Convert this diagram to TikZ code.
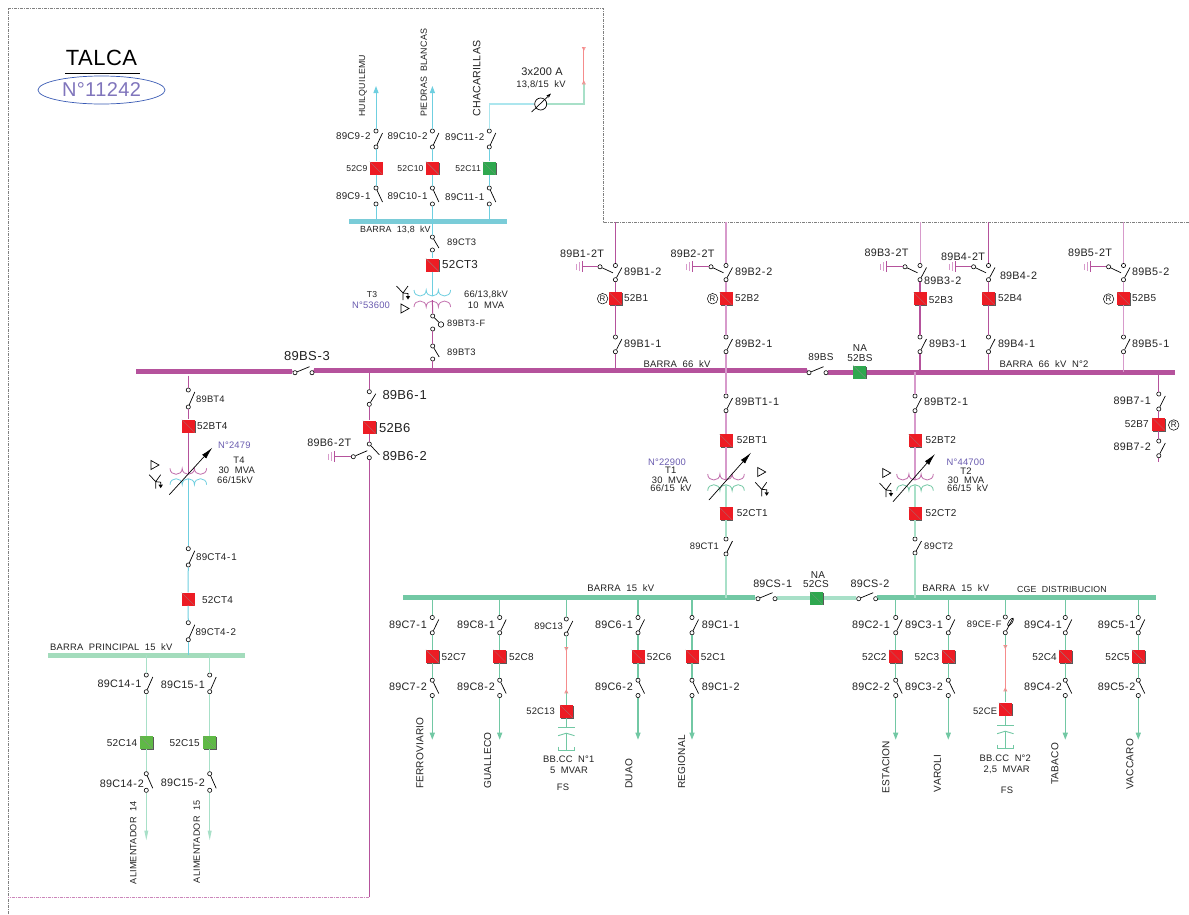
\documentclass[tikz,border=0pt]{standalone}
\usepackage{fontspec}
\setmainfont[LetterSpace=2]{Liberation Sans}
\usetikzlibrary{arrows.meta,calc,shapes.geometric}
\XeTeXinterchartokenstate=1
\newXeTeXintercharclass\hyclass
\XeTeXcharclass`\-=\hyclass
\XeTeXinterchartoks 0 \hyclass={\kern.8pt}
\XeTeXinterchartoks \hyclass 0 ={\kern.8pt}
\definecolor{cmag}{HTML}{B5529C}
\definecolor{cmagl}{HTML}{D79ACB}
\definecolor{cgrn}{HTML}{72C8A4}
\definecolor{cgrnl}{HTML}{A8E0C8}
\definecolor{ccyn}{HTML}{6FCFE0}
\definecolor{ccynl}{HTML}{ACE6EE}
\definecolor{csal}{HTML}{F58C8C}
\definecolor{cbusp}{HTML}{A3DCBC}
\definecolor{cbusc}{HTML}{7ACCD8}
\definecolor{cred}{HTML}{ED1C24}
\definecolor{cgr1}{HTML}{2FA84F}
\definecolor{cgr2}{HTML}{5FB946}
\definecolor{cpur}{HTML}{6A5CB0}
\definecolor{ctxt}{HTML}{222222}
\definecolor{cblue}{HTML}{3A5BB5}
\tikzset{
 swc/.style={circle,draw=black,fill=white,line width=.6pt,minimum size=4.2pt,inner sep=0pt},
 blade/.style={draw=black,line width=.7pt},
 brkbox/.style={rectangle,minimum size=13pt,inner sep=0pt,
   path picture={\draw[line width=.25pt,black!45] (path picture bounding box.north west) -- (path picture bounding box.south east);}},
 busbar/.style={rectangle,inner sep=0pt,minimum height=5pt},
 wm/.style={draw=cmag,line width=1pt},
 wmx/.style={draw=cmag,line width=1.6pt},
 wml/.style={draw=cmagl,line width=1.5pt},
 wg/.style={draw=cgrn,line width=1.2pt},
 wgl/.style={draw=cgrnl,line width=1.4pt},
 wc/.style={draw=ccyn,line width=1pt},
 wcl/.style={draw=ccynl,line width=1.5pt},
 ws/.style={draw=csal,line width=1pt},
 labm/.style={font=\fontsize{10.8}{11}\selectfont,inner sep=0pt,text=ctxt},
 labc/.style={font=\fontsize{9.8}{10}\selectfont},
 labk/.style={font=\fontsize{10}{11}\selectfont},
 labb/.style={font=\fontsize{9.5}{10}\selectfont},
 labs/.style={font=\fontsize{9.4}{10}\selectfont},
 labt/.style={font=\fontsize{8.6}{10}\selectfont},
 labl/.style={font=\fontsize{13}{14}\selectfont},
 rotl/.style={font=\fontsize{10.1}{11}\selectfont,rotate=90,anchor=west},
 pur/.style={text=cpur},
 framel/.style={draw=black!50,line width=.6pt,dash pattern=on 3pt off 1pt on 1pt off 1pt},
 tip/.style={-{Triangle[length=7pt,width=5pt]}},
 tipn/.style={-{Triangle[length=10pt,width=3.6pt]}},
}
\newcounter{lblc}
\newcommand\lab[4][]{\stepcounter{lblc}\node[labm,#1] (txt\arabic{lblc}) at (#2,#3) {#4};}
\newcommand\swU[4]{\node[swc] (#1t) at (#2,#3) {};\node[swc] (#1b) at (#2,#4) {};\draw[blade] (#1b) -- ([shift={(6.5,2)}]#1t.center);}
\newcommand\swD[4]{\node[swc] (#1t) at (#2,#3) {};\node[swc] (#1b) at (#2,#4) {};\draw[blade] (#1t) -- ([shift={(6.5,-2)}]#1b.center);}
\newcommand\swH[4]{\node[swc] (#1l) at (#2,#4) {};\node[swc] (#1r) at (#3,#4) {};\draw[blade] (#1l) -- ([shift={(-2.5,-6)}]#1r.center);}
\newcommand\brk[4]{\fill[black!65] (#2-5.4,#3-5.4) rectangle (#2+7.4,#3+7.4);\node[brkbox,fill=#4] (#1) at (#2,#3) {};}
\newcommand\rmark[3]{\node[circle,draw=black,line width=.5pt,minimum size=10.5pt,inner sep=0pt,font=\fontsize{8}{8}\selectfont,text=ctxt] (#1) at (#2,#3) {R};}
% ground: name, circle x, y, bar x, blade end x
\newcommand\gsw[5]{\node[swc] (#1c) at (#2,#3) {};\coordinate (#1g) at (#4,#3);
 \draw[blade] (#1c) -- (#5,#3+6);
 \draw[draw=cmag,line width=.9pt] (#1c) -- (#1g);
 \draw[draw=cmag,line width=.9pt] (#4,#3-5.5) -- (#4,#3+5.5);
 \draw[draw=cmagl,line width=.9pt] (#4-3,#3-4.5) -- (#4-3,#3+4.5) (#4-6,#3-3) -- (#4-6,#3+3);}
% coil: x0, y0, sign, colour
\newcommand\coil[4]{\draw[draw=#4,line width=.8pt] (#1,#2) .. controls (#1,#2+#3*8) and (#1+12.2,#2+#3*8) .. (#1+12.2,#2) .. controls (#1+12.2,#2+#3*8) and (#1+24.4,#2+#3*8) .. (#1+24.4,#2) .. controls (#1+24.4,#2+#3*8) and (#1+36.6,#2+#3*8) .. (#1+36.6,#2);}
\newcommand\ysym[2]{\draw[line width=.7pt] (#1-6.5,#2-7) -- (#1,#2) -- (#1+5,#2-7) (#1,#2) -- (#1,#2+7) (#1,#2) -- (#1+5,#2+.5) -- (#1+5,#2+3);
 \fill (#1+2.8,#2+3) -- (#1+7.2,#2+3) -- (#1+5,#2+6.5) -- cycle;}
\newcommand\tritr[2]{\draw[line width=.7pt] (#1-4,#2-4.5) -- (#1+4,#2) -- (#1-4,#2+4.5) -- cycle;}
\newcommand\tapA[2]{\draw[draw=csal,line width=.6pt] (#1-1.5,#2) -- (#1+1.5,#2) -- (#1,#2+3) -- cycle;}
\newcommand\tapB[2]{\draw[draw=csal,line width=.6pt] (#1-1.5,#2) -- (#1+1.5,#2) -- (#1,#2-3) -- cycle;}
% capacitor: name, x, plate y, bottom y
\newcommand\capb[4]{\coordinate (#1p) at (#2,#3);\coordinate (#1a) at (#2,#3+5.5);\coordinate (#1e) at (#2,#4);
 \draw[wg,line width=.9pt] (#2-8.2,#3) -- (#2+8.2,#3);
 \draw[wg,line width=.9pt] (#2-8.2,#3+8) -- (#1a) -- (#2+8.2,#3+8);
 \draw[wg,line width=.9pt] (#1a) -- (#1e);
 \draw[wg,line width=.9pt] (#2-8.2,#4-3.5) -- (#2-8.2,#4) -- (#2+8.2,#4) -- (#2+8.2,#4-3.5);}
\begin{document}
\begin{tikzpicture}[x=1pt,y=-1pt,line cap=butt]
\useasboundingbox (0,0) rectangle (1189,914);
\fill[white] (0,0) rectangle (1189,914);
% frame
\coordinate (frA) at (8,914);\coordinate (frB) at (8,8);\coordinate (frC) at (603,8);\coordinate (frD) at (603,222);\coordinate (frE) at (1189,222);
\draw[framel] (frA) -- (frB) -- (frC) -- (frD) -- (frE);
% title
\lab[font=\fontsize{22}{24}\selectfont,text=black]{101.5}{58}{TALCA}
\coordinate (ula) at (65,73);\coordinate (ulb) at (140,73);
\draw[line width=.8pt] (ula) -- (ulb);
\node[ellipse,draw=cblue,line width=.7pt,minimum width=127pt,minimum height=28pt,inner sep=0pt,font=\fontsize{20}{22}\selectfont,text=cpur!85] (nT) at (101.5,90) {N°11242};
% buses
\node[busbar,fill=cmag,minimum width=156pt] (busL) at (214,371) {};
\node[busbar,fill=cmag,minimum width=493pt] (busA) at (560.5,370) {};
\node[busbar,fill=cmag,minimum width=347pt] (busB) at (1001.5,372) {};
\node[busbar,fill=cbusc,minimum width=158pt] (busT) at (428,221) {};
\node[busbar,fill=cgrn,minimum width=352pt] (busD) at (579,597.7) {};
\node[busbar,fill=cgrnl,minimum width=79pt,minimum height=4pt] (busM) at (816.5,598) {};
\node[busbar,fill=cgrn,minimum width=278.7pt] (busE) at (1016.3,597.7) {};
\node[busbar,fill=cbusp,minimum width=196.7pt] (busP) at (146.6,655) {};
% 13.8 kV group
\foreach \nm/\xx/\cc in {c9/376/cred,c10/432.4/cred,c11/489.3/cgr1}{
 \swU{\nm u}{\xx}{131}{147}
 \swD{\nm d}{\xx}{188}{204}
 \brk{\nm k}{\xx}{168}{\cc}
 \draw[wc] (\nm ub) -- (\nm k);
 \draw[wc] (\nm k) -- (\nm dt);
 \draw[wc] (\nm db) -- (\nm db |- busT.center);
}
\coordinate (c9e) at (376,86);\coordinate (c10e) at (432.4,86);
\draw[wc,tip] (c9ut) -- (c9e);
\draw[wc,tip] (c10ut) -- (c10e);
\lab[labc,anchor=east]{370.7}{136.3}{89C9-2}
\lab[labc,anchor=east]{427.7}{136.3}{89C10-2}
\lab[labc,anchor=east]{484.6}{137.3}{89C11-2}
\lab[labt,anchor=east]{367.6}{168.3}{52C9}
\lab[labt,anchor=east]{423.7}{168.3}{52C10}
\lab[labt,anchor=east]{481}{168.3}{52C11}
\lab[labc,anchor=east]{370.7}{196}{89C9-1}
\lab[labc,anchor=east]{427.7}{196}{89C10-1}
\lab[labc,anchor=east]{484.6}{197}{89C11-1}
\lab[font=\fontsize{8.8}{10}\selectfont,rotate=90,anchor=west]{362.8}{117}{HUILQUILEMU}
\lab[font=\fontsize{8.9}{10}\selectfont,rotate=90,anchor=west]{423.7}{117}{PIEDRAS\ \ BLANCAS}
\lab[font=\fontsize{10.6}{11}\selectfont,rotate=90,anchor=west]{476.7}{116.5}{CHACARILLAS}
\lab[font=\fontsize{8.9}{10}\selectfont,anchor=west]{360}{230}{BARRA\ \ 13,8\ \ kV}
% Chacarillas
\node[circle,draw=black,line width=.7pt,minimum size=12pt,inner sep=0pt] (cts) at (540.7,104) {};
\coordinate (ca) at (489.3,104);\coordinate (cb) at (583.8,104);\coordinate (cc) at (583.8,83);\coordinate (cd) at (583.8,47.3);
\draw[wcl] (c11ut) -- (ca) -- (cts);
\draw[wgl] (cts) -- (cb) -- (cc);
\draw[ws,line width=1.3pt] (cc) -- (cd);
\tapA{583.8}{47.3}
\tapB{583.8}{84}
\coordinate (ctA) at (531.6,112);\coordinate (ctB) at (551,93.5);
\draw[line width=.7pt,-{Stealth[length=5pt,width=3.5pt]}] (ctA) -- (ctB);
\lab[font=\fontsize{11}{12}\selectfont]{542}{71.3}{3x200 A}
\lab[labs]{541}{85}{13,8/15\ \ kV}
% T3 column
\swD{ct3}{432.4}{237}{250}
\brk{ct3k}{432.4}{265}{cred}
\lab[labs,anchor=west]{447}{242}{89CT3}
\lab[font=\fontsize{11.6}{12}\selectfont,anchor=west]{442}{264.5}{52CT3}
\coordinate (t3a) at (432.4,296);\coordinate (t3b) at (432.4,300);
\draw[wc] (busT.center -| ct3t) -- (ct3t);
\draw[wc] (ct3b) -- (ct3k);
\draw[wc] (ct3k) -- (t3a);
\coil{414}{290}{1}{ccyn}
\coil{414}{307}{-1}{cmag!80}
\ysym{403}{293}
\tritr{405}{308.5}
\lab[labt]{372}{295}{T3}
\lab[labs,pur]{371}{305}{N°53600}
\lab[labs]{486}{295}{66/13,8kV}
\lab[labs]{486}{305}{10\ \ MVA}
\node[swc] (bfft) at (432.7,316) {};\node[swc] (bffb) at (432.7,329) {};
\node[circle,draw=black,line width=.6pt,minimum width=5.5pt,inner sep=0pt] (bffr) at (441,324.5) {};
\draw[blade] (bfft) -- (bffr);
\lab[font=\fontsize{9.2}{10}\selectfont,anchor=west]{447}{323}{89BT3-F}
\swD{bt3}{432.7}{346}{359}
\lab[labs,anchor=west]{447}{352}{89BT3}
\draw[wm] (t3b) -- (bfft);
\draw[wm] (bffb) -- (bt3t);
\draw[wm] (bt3b) -- (bt3b |- busA.center);
% Left bus switch
\swH{bs3}{295}{312}{372.7}
\lab[labl]{307}{356}{89BS-3}
\draw[wm] (busL.east) -- (bs3l);
\draw[wm] (bs3r) -- (busA.west);
\swH{bs}{809}{826}{372.7}
\lab[labk]{821}{357}{89BS}
\draw[wm] (busA.east) -- (bsl);
\draw[wm] (bsr) -- (busB.west);
\brk{bsk}{859.6}{372}{cgr1}
\lab[labk]{860}{348}{NA}
\lab[labk]{860}{358}{52BS}
\lab[labb]{677}{364.5}{BARRA\ \ 66\ \ kV}
\lab[labb]{1044}{364.5}{BARRA\ \ 66\ \ kV\ \ N°2}
% 66 kV feeders
\foreach \nm/\xx/\gcx/\barx/\sty in {b1/615.4/600/582/wm,b2/726/711/692.5/wml,b3/920/905/886.5/wmx,b4/988.5/973.6/955/wm,b5/1123.5/1108.6/1090/wml}{
 \swU{\nm u}{\xx}{265.5}{279.7}
 \swU{\nm d}{\xx}{337}{351.7}
 \brk{\nm k}{\xx}{298.7}{cred}
 \gsw{\nm g}{\gcx}{266.8}{\barx}{\xx-2.5}
 \coordinate (\nm top) at (\xx,222);
 \draw[\sty] (\nm ub) -- (\nm k);
 \draw[\sty] (\nm k) -- (\nm dt);
}
\draw[wm] (b1top) -- (b1ut);\draw[wml] (b2top) -- (b2ut);\draw[wm,draw=cmagl] (b3top) -- (b3ut);\draw[wm] (b4top) -- (b4ut);\draw[wml] (b5top) -- (b5ut);
\draw[wm] (b1db) -- (b1db |- busA.center);
\draw[wml] (b2db) -- (b2db |- busA.center);
\draw[wmx] (b3db) -- (b3db |- busB.center);
\draw[wm] (b4db) -- (b4db |- busB.center);
\draw[wml] (b5db) -- (b5db |- busB.center);
\lab{582}{254}{89B1-2T}
\lab{692.5}{253.5}{89B2-2T}
\lab{886.5}{253}{89B3-2T}
\lab{963}{256.5}{89B4-2T}
\lab{1090}{253}{89B5-2T}
\lab[anchor=west]{624}{272}{89B1-2}
\lab[anchor=west]{735}{272}{89B2-2}
\lab[anchor=west]{924}{280.7}{89B3-2}
\lab[anchor=west]{999.8}{275.7}{89B4-2}
\lab[anchor=west]{1132}{272}{89B5-2}
\lab[labk,anchor=west]{624}{298}{52B1}
\lab[labk,anchor=west]{735}{298}{52B2}
\lab[labk,anchor=west]{928.7}{300}{52B3}
\lab[labk,anchor=west]{997.8}{298}{52B4}
\lab[labk,anchor=west]{1132}{298}{52B5}
\lab[anchor=west]{624}{343.7}{89B1-1}
\lab[anchor=west]{735}{343.7}{89B2-1}
\lab[anchor=west]{929}{343.7}{89B3-1}
\lab[anchor=west]{997.8}{343.7}{89B4-1}
\lab[anchor=west]{1132}{343.7}{89B5-1}
\rmark{rb1}{602.6}{298.7}
\rmark{rb2}{712.6}{298.7}
\rmark{rb5}{1108.6}{299}
% B7
\swU{b7u}{1158.8}{394}{409}
\swU{b7d}{1158.8}{441}{455.7}
\brk{b7k}{1158.8}{424.3}{cred}
\rmark{rb7}{1173.7}{425}
\coordinate (b7e) at (1158.8,462);
\draw[wm] (b7ut |- busB.center) -- (b7ut);
\draw[wm] (b7ub) -- (b7k);
\draw[wm] (b7k) -- (b7dt);
\draw[wm] (b7db) -- (b7e);
\lab[anchor=east]{1151}{400.7}{89B7-1}
\lab[labk,anchor=east]{1149}{424}{52B7}
\lab[anchor=east]{1151}{447}{89B7-2}
% B6
\swU{b6u}{369.3}{391.7}{404.3}
\node[swc] (b6dt) at (369.3,444) {};\node[swc] (b6db) at (369.3,457.7) {};
\draw[blade] (b6dt) -- (379.3,454.7);
\brk{b6k}{369.3}{427}{cred}
\node[swc] (b6gc) at (353.3,456.7) {};\coordinate (b6gg) at (334.3,456.7);
\draw[blade] (b6gc) -- (367.3,450.7);
\draw[draw=cmag,line width=.9pt] (b6gc) -- (b6gg);
\draw[draw=cmag,line width=.9pt] (334.3,451.2) -- (334.3,462.2);
\draw[draw=cmagl,line width=.9pt] (331.3,452.2) -- (331.3,461.2) (328.3,453.7) -- (328.3,459.7);
\coordinate (b6e) at (369.3,897);\coordinate (b6f) at (8,897);
\draw[wm] (b6ut |- busA.center) -- (b6ut);
\draw[wm] (b6ub) -- (b6k);
\draw[wm] (b6k) -- (b6dt);
\draw[wm] (b6db) -- (b6e);
\draw[draw=cmag!70,line width=.7pt,dash pattern=on 3pt off 1pt on 1pt off 1pt] (b6e) -- (b6f);
\lab[labl,anchor=west]{382.3}{395}{89B6-1}
\lab[labl,anchor=west]{379}{428}{52B6}
\lab[labl,anchor=west]{382.3}{455.7}{89B6-2}
\lab{329.3}{442.3}{89B6-2T}
% T4
\swU{bt4}{188.3}{390}{407}
\brk{bt4k}{188.3}{426}{cred}
\coordinate (t4a) at (188.3,375.7);\coordinate (t4b) at (188.3,474);\coordinate (t4c) at (188.3,479);
\draw[wm] (t4a) -- (bt4t);
\draw[wm] (bt4b) -- (bt4k);
\draw[wm] (bt4k) -- (t4b);
\coil{170}{468.3}{1}{cmag!85}
\coil{170}{484.7}{-1}{ccyn}
\coordinate (t4p) at (169.3,494.7);\coordinate (t4q) at (212.3,447.7);
\draw[line width=.7pt,-{Latex[length=12pt,width=5.5pt]}] (t4p) -- (t4q);
\tritr{155}{465}
\ysym{155.7}{481.7}
\lab[labs,anchor=west]{196}{399}{89BT4}
\lab[labk,anchor=west]{197}{426}{52BT4}
\lab[labs,pur]{234.3}{445.7}{N°2479}
\lab[labs]{239}{460.7}{T4}
\lab[labs]{236.7}{470}{30\ \ MVA}
\lab[labs]{235}{480}{66/15kV}
\swU{ct4u}{188.3}{548.7}{565}
\brk{ct4k}{188}{599}{cred}
\swU{ct4d}{188.3}{622.7}{639.7}
\draw[wc] (t4c) -- (ct4ut);
\draw[wc] (ct4ub) -- (ct4k);
\draw[wc] (ct4k) -- (ct4dt);
\draw[wc] (ct4db) -- (ct4db |- busP.center);
\lab[labc,anchor=west]{196}{557.3}{89CT4-1}
\lab[labk,anchor=west]{202}{600}{52CT4}
\lab[labc,anchor=west]{195.3}{632}{89CT4-2}
\lab[labs,anchor=west]{50}{647.3}{BARRA\ \ PRINCIPAL\ \ 15\ \ kV}
% C14 C15
\foreach \nm/\xx in {c14/146.3,c15/209.7}{
 \swU{\nm u}{\xx}{675}{691.7}
 \brk{\nm k}{\xx}{742.7}{cgr2}
 \swD{\nm d}{\xx}{773.7}{790.3}
 \coordinate (\nm e) at (\xx,840.7);
 \draw[wgl] (\nm ut |- busP.center) -- (\nm ut);
 \draw[wgl] (\nm ub) -- (\nm k);
 \draw[wgl] (\nm k) -- (\nm dt);
 \draw[wgl,tipn] (\nm db) -- (\nm e);
}
\lab[anchor=east]{141.7}{683.7}{89C14-1}
\lab[anchor=east]{205}{684.7}{89C15-1}
\lab[labk,anchor=east]{137.3}{743}{52C14}
\lab[labk,anchor=east]{200}{743.5}{52C15}
\lab[anchor=east]{144}{783.3}{89C14-2}
\lab[anchor=east]{205}{783}{89C15-2}
\lab[font=\fontsize{9.1}{10}\selectfont,rotate=90,anchor=west]{133.3}{884.3}{ALIMENTADOR\ \ 14}
\lab[font=\fontsize{9.1}{10}\selectfont,rotate=90,anchor=west]{196.7}{883.3}{ALIMENTADOR\ \ 15}
% T1
\swU{bt1}{726}{396}{410.7}
\brk{bt1k}{726}{440.7}{cred}
\coordinate (t1a) at (726,480);\coordinate (t1b) at (726,485);
\draw[wml] (b2db |- busA.center) -- (bt1t);
\draw[wml] (bt1b) -- (bt1k);
\draw[wml] (bt1k) -- (t1a);
\coil{707.7}{474}{1}{cmag!85}
\coil{707.7}{490.7}{-1}{cgrn}
\coordinate (t1p) at (709,500);\coordinate (t1q) at (751,452.7);
\draw[line width=.7pt,-{Latex[length=12pt,width=5.5pt]}] (t1p) -- (t1q);
\tritr{761.7}{472}
\ysym{761.7}{489.3}
\brk{ct1k}{726}{513.7}{cred}
\swU{ct1}{726}{539}{554}
\draw[wgl] (t1b) -- (ct1k);
\draw[wgl] (ct1k) -- (ct1t);
\draw[wgl] (ct1b) -- (ct1b |- busD.center);
\lab[anchor=west]{735}{402}{89BT1-1}
\lab[labk,anchor=west]{736.7}{440}{52BT1}
\lab[labk,anchor=west]{736.7}{513}{52CT1}
\lab[labs,anchor=east]{719}{546}{89CT1}
\lab[labs,pur]{667}{462}{N°22900}
\lab[labs]{670.7}{470.7}{T1}
\lab[labs]{670}{480}{30\ \ MVA}
\lab[labs]{671}{488.5}{66/15\ \ kV}
% T2
\swU{bt2}{915}{396}{410.7}
\brk{bt2k}{915}{440.7}{cred}
\coordinate (t2a) at (915,480);\coordinate (t2b) at (915,485);
\draw[wml] (bt2t |- busB.center) -- (bt2t);
\draw[wml] (bt2b) -- (bt2k);
\draw[wml] (bt2k) -- (t2a);
\coil{896.7}{474}{1}{cmag!85}
\coil{896.7}{490.7}{-1}{cgrn}
\coordinate (t2p) at (893,501.7);\coordinate (t2q) at (935,454);
\draw[line width=.7pt,-{Latex[length=12pt,width=5.5pt]}] (t2p) -- (t2q);
\tritr{886.7}{473}
\ysym{886}{490}
\brk{ct2k}{915}{513.7}{cred}
\swU{ct2}{915}{539}{553}
\draw[wgl] (t2b) -- (ct2k);
\draw[wgl] (ct2k) -- (ct2t);
\draw[wgl] (ct2b) -- (ct2b |- busE.center);
\lab[anchor=west]{924}{402}{89BT2-1}
\lab[labk,anchor=west]{925.5}{440}{52BT2}
\lab[labk,anchor=west]{925.5}{513}{52CT2}
\lab[labs,anchor=west]{924}{546}{89CT2}
\lab[labs,pur]{965.6}{462}{N°44700}
\lab[labs]{966}{471}{T2}
\lab[labs]{966}{480}{30\ \ MVA}
\lab[labs]{967.6}{488.5}{66/15\ \ kV}
% 15 kV couplers
\swH{cs1}{758}{775}{598.7}
\swH{cs2}{858.7}{875.7}{598.7}
\brk{csk}{816.3}{598}{cgr1}
\draw[wg] (busD.east) -- (cs1l);
\draw[wg] (cs1r) -- (busM.west);
\draw[wg] (busM.east) -- (cs2l);
\draw[wg] (cs2r) -- (busE.west);
\lab{772.7}{584}{89CS-1}
\lab[labk]{818}{575}{NA}
\lab[labk]{816}{584}{52CS}
\lab{870}{584}{89CS-2}
\lab[labb]{620.7}{588}{BARRA\ \ 15\ \ kV}
\lab[labb]{955.7}{588}{BARRA\ \ 15\ \ kV}
\lab[font=\fontsize{8.8}{10}\selectfont]{1062}{589.5}{CGE\ \ DISTRIBUCION}
% 15 kV feeders
\foreach \nm/\xx/\bus in {c7/432.3/busD,c8/499.7/busD,c6/638/busD,c1/692/busD,c2/895.7/busE,c3/948.3/busE,c4/1065.3/busE,c5/1138.3/busE}{
 \swU{\nm u}{\xx}{617.5}{632.8}
 \brk{\nm k}{\xx}{656.2}{cred}
 \swD{\nm d}{\xx}{680.2}{695.5}
 \coordinate (\nm e) at (\xx,739.7);
 \draw[wg] (\nm ut |- \bus.center) -- (\nm ut);
 \draw[wg] (\nm ub) -- (\nm k);
 \draw[wg] (\nm k) -- (\nm dt);
 \draw[wg,tip] (\nm db) -- (\nm e);
}
\lab[anchor=east]{427}{624.3}{89C7-1}
\lab[anchor=east]{495}{624.3}{89C8-1}
\lab[anchor=east]{633}{624.3}{89C6-1}
\lab[anchor=west]{701.7}{624.3}{89C1-1}
\lab[labk,anchor=west]{441.3}{657}{52C7}
\lab[labk,anchor=west]{509}{657}{52C8}
\lab[labk,anchor=west]{646.7}{657}{52C6}
\lab[labk,anchor=west]{700.7}{657}{52C1}
\lab[anchor=east]{427}{687}{89C7-2}
\lab[anchor=east]{495}{687}{89C8-2}
\lab[anchor=east]{633}{687}{89C6-2}
\lab[anchor=west]{701.7}{687}{89C1-2}
\lab[rotl]{420}{789}{FERROVIARIO}
\lab[rotl]{487.7}{789}{GUALLECO}
\lab[rotl]{629}{789}{DUAO}
\lab[rotl]{681.7}{789}{REGIONAL}
\lab[anchor=east]{890}{625}{89C2-1}
\lab[anchor=east]{943}{625}{89C3-1}
\lab[anchor=east]{1062}{625}{89C4-1}
\lab[anchor=east]{1135.7}{625}{89C5-1}
\lab[labk,anchor=east]{886.7}{657}{52C2}
\lab[labk,anchor=east]{939.3}{657}{52C3}
\lab[labk,anchor=east]{1057}{657}{52C4}
\lab[labk,anchor=east]{1130}{657}{52C5}
\lab[anchor=east]{890}{687}{89C2-2}
\lab[anchor=east]{943}{687}{89C3-2}
\lab[anchor=east]{1062}{687}{89C4-2}
\lab[anchor=east]{1135.7}{687}{89C5-2}
\lab[rotl]{886}{793.3}{ESTACION}
\lab[rotl]{937.3}{792.3}{VAROLI}
\lab[rotl]{1055}{785}{TABACO}
\lab[rotl]{1130}{789.7}{VACCARO}
% C13
\swU{c13u}{566.3}{619}{634}
\brk{c13k}{566.3}{711.3}{cred}
\coordinate (c13a) at (566.3,649);\coordinate (c13b) at (566.3,692);
\draw[wg] (c13ut |- busD.center) -- (c13ut);
\draw[wg] (c13ub) -- (c13a);
\draw[ws,line width=1.2pt] (c13a) -- (c13b);
\draw[wg] (c13b) -- (c13k);
\tapA{566.3}{647.5}
\tapB{566.3}{693}
\capb{c13c}{566.3}{727.7}{750}
\draw[wg,line width=.9pt] (c13k) -- (c13cp);
\lab[labs,anchor=east]{563}{626}{89C13}
\lab[labs,anchor=east]{555}{711}{52C13}
\lab[labs]{568.7}{759}{BB.CC\ \ N°1}
\lab[labs]{569}{770.7}{5\ \ MVAR}
\lab[labs]{563}{787}{FS}
% CE
\node[swc] (ceft) at (1005.3,617) {};\node[swc] (cefb) at (1005.3,632.7) {};
\draw[blade] (cefb) -- (1013,618);
\node[ellipse,draw=black,line width=.6pt,minimum width=3.5pt,minimum height=9pt,inner sep=0pt,rotate=-35] (cefr) at (1010.5,622) {};
\brk{cek}{1005.3}{709}{cred}
\coordinate (cea) at (1005.3,647);\coordinate (ceb) at (1005.3,690);
\draw[wg] (ceft |- busE.center) -- (ceft);
\draw[wg] (cefb) -- (cea);
\draw[ws,line width=1.2pt] (cea) -- (ceb);
\draw[wg] (ceb) -- (cek);
\tapA{1005.3}{645.5}
\tapB{1005.3}{691}
\capb{cec}{1005.3}{725.7}{748.3}
\draw[wg,line width=.9pt] (cek) -- (cecp);
\lab[labs,anchor=east]{1001.7}{624.3}{89CE-F}
\lab[labs,anchor=east]{997.3}{711.3}{52CE}
\lab[labs]{1005.3}{758.3}{BB.CC\ \ N°2}
\lab[labs]{1006.7}{769.7}{2,5\ \ MVAR}
\lab[labs]{1007}{790.3}{FS}
\end{tikzpicture}
\end{document}
